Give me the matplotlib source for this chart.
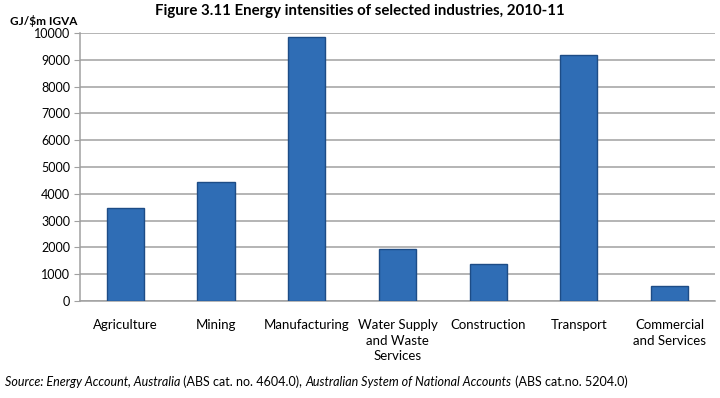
import matplotlib.pyplot as plt

plt.rcParams['font.family'] = ['Lato', 'DejaVu Sans']

industries = ["Agriculture", "Mining", "Manufacturing", "Water Supply\nand Waste\nServices",
              "Construction", "Transport", "Commercial\nand Services"]
intensity = [3480, 4430, 9840, 1950, 1370, 9180, 560]
yticks = list(range(0, 10001, 1000))

fig = plt.figure(figsize=(7.2, 3.98), dpi=100)
ax = fig.add_axes([0.111, 0.2437, 0.882, 0.6733])

x = range(len(industries))
ax.bar(x, intensity, width=0.41, color="#2f6db5", edgecolor="#1d4c86", linewidth=1.0, zorder=3)

ax.set_xlim(-0.5, len(industries) - 0.5)
ax.set_ylim(0, 10000)
ax.set_yticks(yticks)
ax.set_yticklabels([str(v) for v in yticks], fontsize=9)
ax.set_xticks(list(x))
ax.set_xticklabels(industries, fontsize=9.5, linespacing=1.35)
ax.tick_params(axis="x", length=0, pad=13)
ax.tick_params(axis="y", length=4, color="#a0a0a0", pad=3)
ax.grid(axis="y", color="#a0a0a0", linewidth=1.1, zorder=0)
for side in ["top", "right"]:
    ax.spines[side].set_visible(False)
for side in ["left", "bottom"]:
    ax.spines[side].set_color("#a0a0a0")
    ax.spines[side].set_linewidth(1.1)

fig.text(0.5, 0.972, "Figure 3.11 Energy intensities of selected industries, 2010-11",
         ha="center", va="center", fontsize=10.8, fontweight="bold")
fig.text(0.014, 0.948, "GJ/$m IGVA", ha="left", va="center", fontsize=8.5, fontweight="bold")

# source line: italic titles, regular catalogue numbers
parts = [("Source: Energy Account, Australia", "italic"),
         (" (ABS cat. no. 4604.0), ", "normal"),
         ("Australian System of National Accounts", "italic"),
         (" (ABS cat.no. 5204.0)", "normal")]
prev = fig.text(0.007, 0.04, parts[0][0], fontsize=9, style=parts[0][1], va="center")
for s, st in parts[1:]:
    prev = ax.annotate(s, xy=(1, 0.5), xycoords=prev, va="center", ha="left",
                       fontsize=9, style=st, annotation_clip=False)

fig.savefig("out.png", dpi=100)
